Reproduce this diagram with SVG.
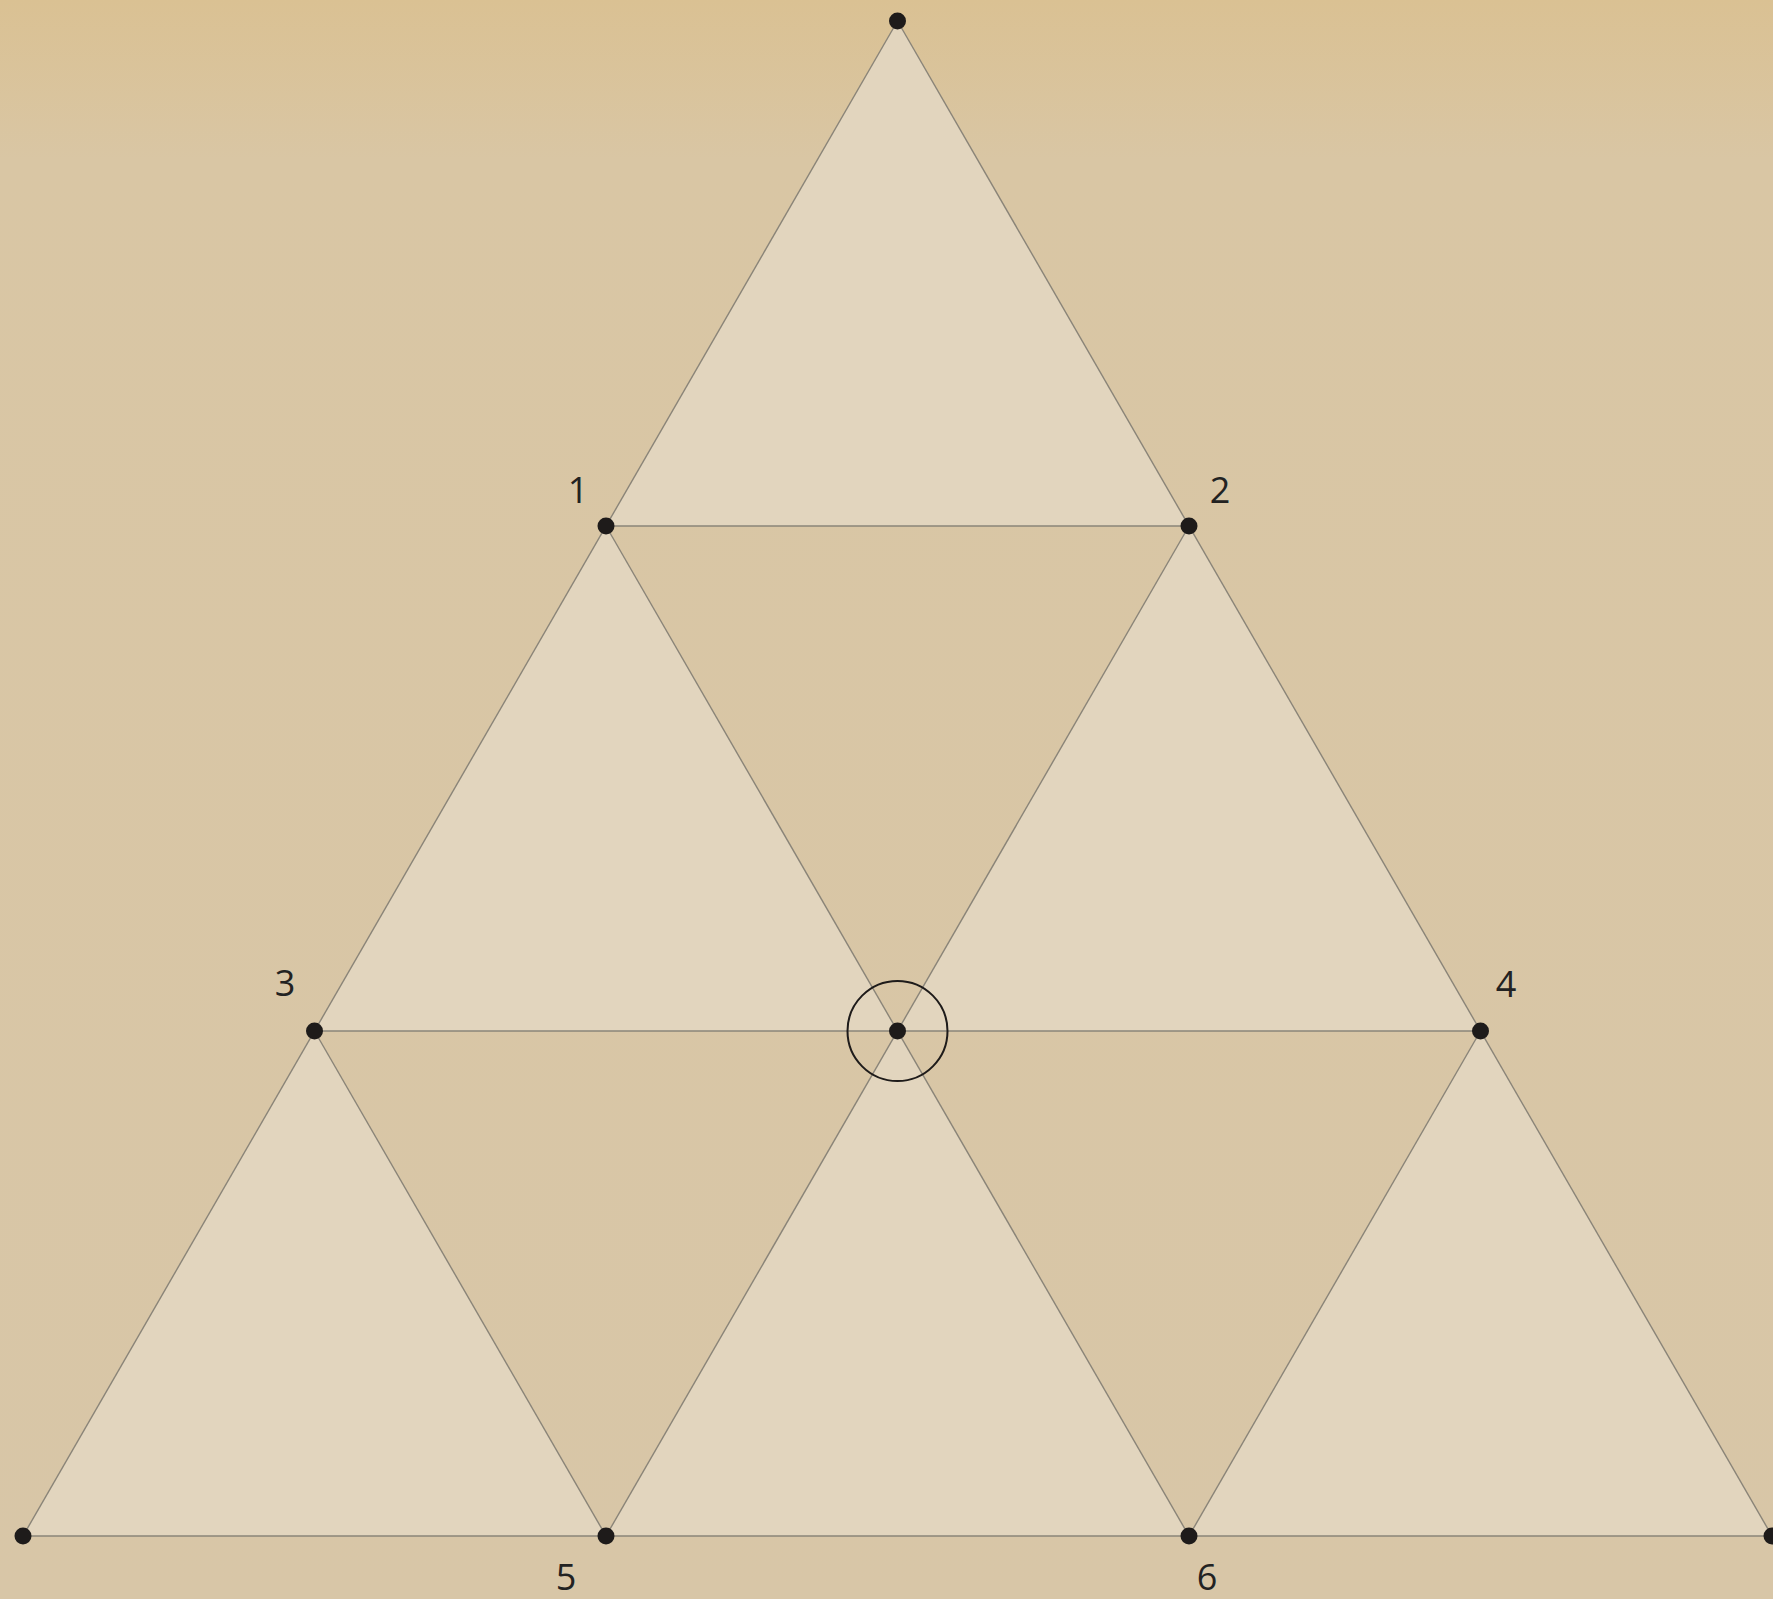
<svg xmlns="http://www.w3.org/2000/svg" width="1773" height="1599" viewBox="0 0 1773 1599">
<defs>
<linearGradient id="bg" x1="0" y1="0" x2="0" y2="1">
<stop offset="0" stop-color="#dac193"/>
<stop offset="0.1" stop-color="#d9c6a4"/>
<stop offset="1" stop-color="#d8c6a7"/>
</linearGradient>
<style>
.up{fill:#e2d5be;stroke:none}
.edge{stroke:#8a8478;stroke-width:1.4;fill:none}
.dot{fill:#1e1b1a}
.lbl{font-family:"Open Sans","Liberation Sans",sans-serif;font-size:36px;fill:#222;text-anchor:middle}
</style>
</defs>
<rect width="1773" height="1599" fill="url(#bg)"/>
<g id="faces">
<polygon class="up" points="897.5,21 606,526 1189,526"/>
<polygon class="up" points="606,526 314.5,1031 897.5,1031"/>
<polygon class="up" points="1189,526 897.5,1031 1480.5,1031"/>
<polygon class="up" points="314.5,1031 23,1536 606,1536"/>
<polygon class="up" points="897.5,1031 606,1536 1189,1536"/>
<polygon class="up" points="1480.5,1031 1189,1536 1772,1536"/>
</g>
<g id="connectors" class="edge">
<line x1="897.5" y1="21" x2="23" y2="1536"/>
<line x1="897.5" y1="21" x2="1772" y2="1536"/>
<line x1="23" y1="1536" x2="1772" y2="1536"/>
<line x1="606" y1="526" x2="1189" y2="526"/>
<line x1="314.5" y1="1031" x2="1480.5" y2="1031"/>
<line x1="606" y1="526" x2="1189" y2="1536"/>
<line x1="1189" y1="526" x2="606" y2="1536"/>
<line x1="314.5" y1="1031" x2="606" y2="1536"/>
<line x1="1480.5" y1="1031" x2="1189" y2="1536"/>
</g>
<g id="node-top"><circle class="dot" cx="897.5" cy="21" r="8.5"/></g>
<g id="node-1"><circle class="dot" cx="606" cy="526" r="8.5"/><text class="lbl" x="578" y="503">1</text></g>
<g id="node-2"><circle class="dot" cx="1189" cy="526" r="8.5"/><text class="lbl" x="1220" y="503">2</text></g>
<g id="node-3"><circle class="dot" cx="314.5" cy="1031" r="8.5"/><text class="lbl" x="285" y="996">3</text></g>
<g id="node-center"><circle cx="897.5" cy="1031" r="50" fill="none" stroke="#1e1b1a" stroke-width="2"/><circle class="dot" cx="897.5" cy="1031" r="8.5"/></g>
<g id="node-4"><circle class="dot" cx="1480.5" cy="1031" r="8.5"/><text class="lbl" x="1506" y="997">4</text></g>
<g id="node-bl"><circle class="dot" cx="23" cy="1536" r="8.5"/></g>
<g id="node-5"><circle class="dot" cx="606" cy="1536" r="8.5"/><text class="lbl" x="566" y="1590">5</text></g>
<g id="node-6"><circle class="dot" cx="1189" cy="1536" r="8.5"/><text class="lbl" x="1207" y="1590">6</text></g>
<g id="node-br"><circle class="dot" cx="1772" cy="1536" r="8.5"/></g>
</svg>
